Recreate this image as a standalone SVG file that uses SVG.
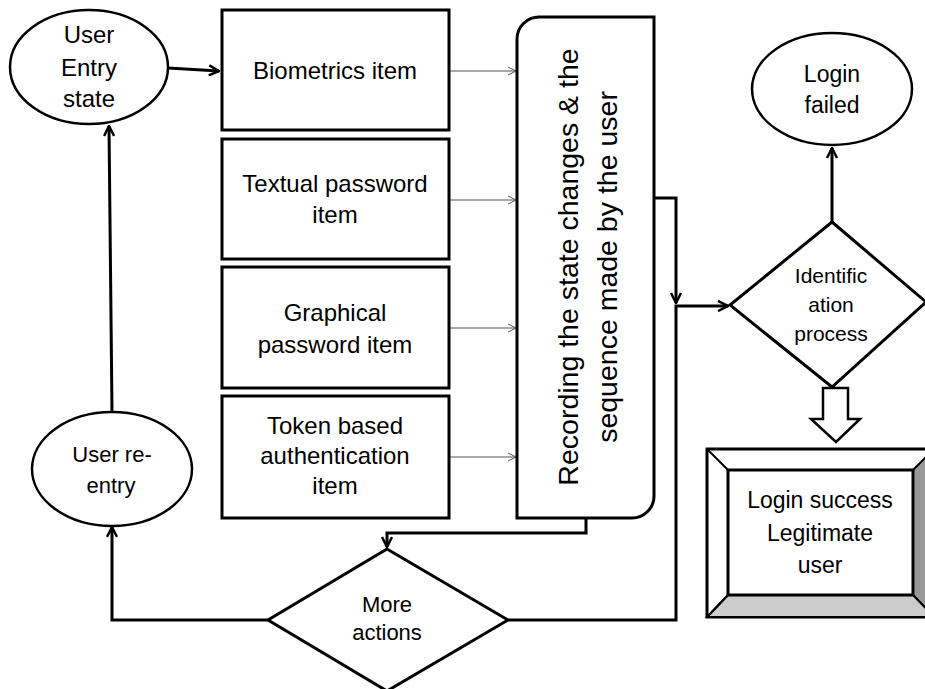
<svg xmlns="http://www.w3.org/2000/svg" width="925" height="689" viewBox="0 0 925 689">
<style>
.s{fill:#fff;stroke:#000;stroke-width:3}
.e{fill:#fff;stroke:#000;stroke-width:2.5}
.t{font-family:"Liberation Sans",Arial,sans-serif;font-size:24px;fill:#000;text-anchor:middle}
.c{fill:none;stroke:#000;stroke-width:3}
.thin{fill:none;stroke:#555;stroke-width:1}
</style>
<defs>
<marker id="a" viewBox="0 0 12 12" refX="11" refY="6" markerWidth="12" markerHeight="12" markerUnits="userSpaceOnUse" orient="auto">
<path d="M1,1 L11,6 L1,11" fill="none" stroke="#000" stroke-width="2.5"/>
</marker>
<marker id="g" viewBox="0 0 10 10" refX="9" refY="5" markerWidth="10" markerHeight="10" markerUnits="userSpaceOnUse" orient="auto">
<path d="M1,1 L9,5 L1,9" fill="none" stroke="#555" stroke-width="1"/>
</marker>
</defs>
<rect width="925" height="689" fill="#fff"/>

<g id="connectors">
<path class="c" d="M168,68 L219,71" marker-end="url(#a)"/>
<path class="thin" d="M449,71 L516,71" marker-end="url(#g)"/>
<path class="thin" d="M449,200 L516,200" marker-end="url(#g)"/>
<path class="thin" d="M449,328 L516,328" marker-end="url(#g)"/>
<path class="thin" d="M449,457 L516,457" marker-end="url(#g)"/>
<path class="c" d="M654,198 L676,198 L676,303" marker-end="url(#a)"/>
<path class="c" d="M508,620 L676,620 L676,306 L728,306" marker-end="url(#a)"/>
<path class="c" d="M586,518 L586,533 L387,533 L387,547" marker-end="url(#a)"/>
<path class="c" d="M268,620 L112,620 L112,527" marker-end="url(#a)"/>
<path class="c" d="M112,412 L109,126" marker-end="url(#a)"/>
<path class="c" d="M832,222 L832,148" marker-end="url(#a)"/>
<path d="M823,388 L848,388 L848,419 L860,419 L836,442 L811,419 L823,419 Z" fill="#fff" stroke="#000" stroke-width="2.5"/>
</g>

<g id="user-entry">
<ellipse class="e" cx="89" cy="67" rx="79" ry="57"/>
<text class="t"><tspan x="89" y="43">User</tspan><tspan x="89" y="76">Entry</tspan><tspan x="89" y="107">state</tspan></text>
</g>

<g id="biometrics">
<rect class="s" x="222" y="10" width="227" height="120"/>
<text class="t" x="335" y="79">Biometrics item</text>
</g>

<g id="textual">
<rect class="s" x="222" y="139" width="227" height="120"/>
<text class="t"><tspan x="335" y="192">Textual password</tspan><tspan x="335" y="223">item</tspan></text>
</g>

<g id="graphical">
<rect class="s" x="222" y="267" width="227" height="121"/>
<text class="t"><tspan x="335" y="321">Graphical</tspan><tspan x="335" y="353">password item</tspan></text>
</g>

<g id="token">
<rect class="s" x="222" y="396" width="227" height="122"/>
<text class="t"><tspan x="335" y="434">Token based</tspan><tspan x="335" y="464">authentication</tspan><tspan x="335" y="494">item</tspan></text>
</g>

<g id="recording">
<path class="s" d="M517,39 A22,22 0 0 1 539,17 L654,17 L654,496 A22,22 0 0 1 632,518 L517,518 Z"/>
<text class="t" style="font-size:28.5px" transform="translate(578,267) rotate(-90)" x="0" y="0">Recording the state changes &amp; the</text>
<text class="t" style="font-size:28.5px" transform="translate(617,267) rotate(-90)" x="0" y="0">sequence made by the user</text>
</g>

<g id="user-reentry">
<ellipse class="e" cx="112" cy="469" rx="80" ry="57"/>
<text class="t" style="font-size:22px"><tspan x="112" y="462">User re-</tspan><tspan x="111" y="493">entry</tspan></text>
</g>

<g id="more-actions">
<path class="s" d="M387,549 L508,620 L387,691 L268,620 Z"/>
<text class="t" style="font-size:22px"><tspan x="387" y="612">More</tspan><tspan x="387" y="640">actions</tspan></text>
</g>

<g id="login-failed">
<ellipse class="e" cx="832" cy="89" rx="80" ry="56"/>
<text class="t" style="font-size:23px"><tspan x="832" y="82">Login</tspan><tspan x="832" y="113">failed</tspan></text>
</g>

<g id="identification">
<path class="s" d="M832,222 L926,302 L832,387 L730,305 Z"/>
<text class="t" style="font-size:21px"><tspan x="831" y="283">Identific</tspan><tspan x="831" y="312">ation</tspan><tspan x="831" y="341">process</tspan></text>
</g>

<g id="login-success">
<rect x="707" y="449" width="227" height="168" fill="#fff" stroke="#000" stroke-width="3"/>
<polygon points="913,470 934,449 934,617 913,595" fill="#999" stroke="#000" stroke-width="2"/>
<polygon points="728,595 913,595 934,617 707,617" fill="#ccc" stroke="#000" stroke-width="2"/>
<path d="M707,449 L728,470 M707,617 L728,595" stroke="#000" stroke-width="2"/>
<rect x="728" y="470" width="185" height="125" fill="#fff" stroke="#000" stroke-width="3"/>
<text class="t" style="font-size:23px"><tspan x="820" y="508">Login success</tspan><tspan x="820" y="541">Legitimate</tspan><tspan x="820" y="573">user</tspan></text>
</g>
</svg>
